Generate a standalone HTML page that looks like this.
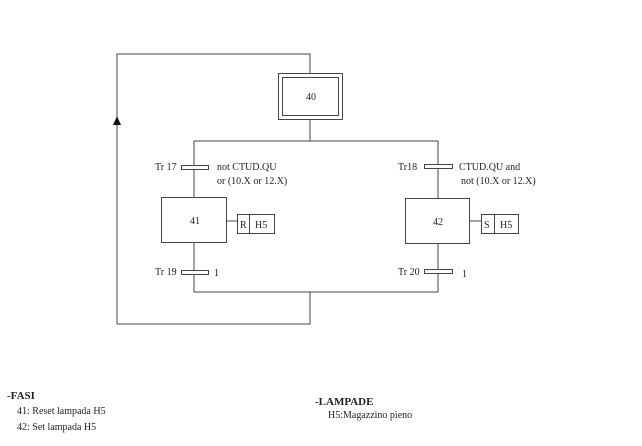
<!DOCTYPE html>
<html><head><meta charset="utf-8"><style>
html,body{margin:0;padding:0;background:#fff;width:642px;height:446px;overflow:hidden}
svg{display:block}
text{font-family:"Liberation Serif",serif;font-size:10px;fill:#222}
</style></head><body>
<svg width="642" height="446" viewBox="0 0 642 446" xmlns="http://www.w3.org/2000/svg">
<g stroke="#444" stroke-width="1" fill="none">
<polyline points="310,73 310,54 117,54 117,324 310,324 310,292"/>
<rect x="278.5" y="73.5" width="64" height="46"/>
<rect x="282.5" y="77.5" width="56" height="38"/>
<line x1="310" y1="119" x2="310" y2="141"/>
<polyline points="194,198 194,141 438,141 438,198"/>
<rect x="161.5" y="197.5" width="65" height="45" fill="#fff"/>
<rect x="405.5" y="198.5" width="64" height="45" fill="#fff"/>
<line x1="194" y1="243" x2="194" y2="292"/>
<line x1="438" y1="243" x2="438" y2="292"/>
<line x1="194" y1="292" x2="438" y2="292"/>
<line x1="226" y1="221" x2="237" y2="221"/>
<rect x="237.5" y="214.5" width="37" height="19"/>
<line x1="249.5" y1="214" x2="249.5" y2="233"/>
<line x1="469" y1="221" x2="481" y2="221"/>
<rect x="481.5" y="214.5" width="37" height="19"/>
<line x1="494.5" y1="214" x2="494.5" y2="233"/>
<rect x="181.5" y="165.5" width="27" height="4" fill="#fff"/>
<rect x="181.5" y="270.5" width="27" height="4" fill="#fff"/>
<rect x="424.5" y="164.5" width="28" height="4" fill="#fff"/>
<rect x="424.5" y="269.5" width="28" height="4" fill="#fff"/>
</g>
<polygon points="117,116 113,125 121,125" fill="#111"/>
<text x="306" y="100">40</text>
<text x="190" y="224">41</text>
<text x="433" y="225">42</text>
<text x="240" y="228">R</text>
<text x="255" y="228">H5</text>
<text x="484" y="228">S</text>
<text x="500" y="228">H5</text>
<text x="155" y="170">Tr 17</text>
<text x="217" y="170">not CTUD.QU</text>
<text x="217" y="184">or (10.X or 12.X)</text>
<text x="398" y="170">Tr18</text>
<text x="459" y="170">CTUD.QU and</text>
<text x="461" y="184">not (10.X or 12.X)</text>
<text x="155" y="275">Tr 19</text>
<text x="214" y="276">1</text>
<text x="398" y="275">Tr 20</text>
<text x="462" y="277">1</text>
<text x="7" y="399" style="font-weight:bold;font-size:11px">-FASI</text>
<text x="17" y="414">41: Reset lampada H5</text>
<text x="17" y="430">42: Set lampada H5</text>
<text x="315" y="405" style="font-weight:bold;font-size:11px">-LAMPADE</text>
<text x="328" y="418">H5:Magazzino pieno</text>
</g>
</svg>
</body></html>
